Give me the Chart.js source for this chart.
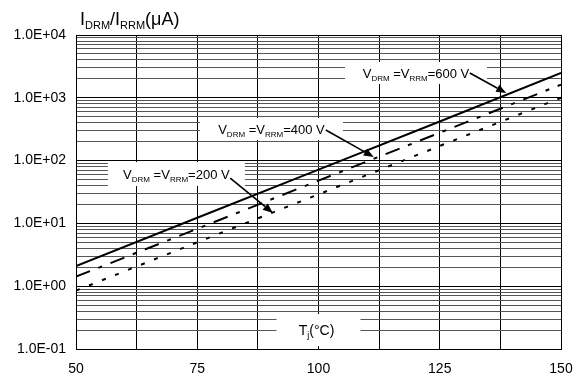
<!DOCTYPE html>
<html>
<head>
<meta charset="utf-8">
<script src="https://cdn.jsdelivr.net/npm/chart.js@4.4.0/dist/chart.umd.min.js"></script>
<style>
  html, body { margin: 0; padding: 0; background: #fff; }
  canvas { display: block; }
</style>
</head>
<body>
<canvas id="leak" width="578" height="378"></canvas>
<script>
// Tj (°C) where the curves were read
const temps = [50, 75, 100, 125, 150];
// IDRM/IRRM (µA)
const i600 = [2.1, 12.3, 72, 420, 2480];
const i400 = [1.42, 8.2, 48, 278, 1620];
const i200 = [0.85, 5.0, 29, 171, 1000];

const xTickLabels = [50, 75, 100, 125, 150];
const yDecades = [0.1, 1, 10, 100, 1000, 10000];

const FONT = '"Liberation Sans", Arial, sans-serif';

// minor log grid: 1..9 in every decade
const yTickValues = [];
yDecades.forEach((d, i) => {
    if (i === yDecades.length - 1) { yTickValues.push(d); return; }
    for (let k = 1; k < 10; k++) yTickValues.push(+(d * k).toPrecision(6));
});

function isDecade(v) {
    const l = Math.log10(v);
    return Math.abs(l - Math.round(l)) < 1e-9;
}
function sci(v) {
    const e = Math.round(Math.log10(v));
    return '1.0E' + (e < 0 ? '-' : '+') + String(Math.abs(e)).padStart(2, '0');
}

// texte mit tiefgestellten teilen: [text, sub?]
function richWidth(ctx, parts, size, subSize) {
    let w = 0;
    parts.forEach(p => {
        ctx.font = (p[1] ? subSize : size) + 'px ' + FONT;
        w += ctx.measureText(p[0]).width;
    });
    return w;
}
function drawRich(ctx, parts, x, baseline, size, subSize, subDrop) {
    ctx.textAlign = 'left';
    ctx.textBaseline = 'alphabetic';
    ctx.fillStyle = '#000';
    parts.forEach(p => {
        ctx.font = (p[1] ? subSize : size) + 'px ' + FONT;
        ctx.fillText(p[0], x, baseline + (p[1] ? subDrop : 0));
        x += ctx.measureText(p[0]).width;
    });
}
function arrow(ctx, x1, y1, x2, y2) {
    const a = Math.atan2(y2 - y1, x2 - x1);
    const len = 10, half = 4;
    ctx.save();
    ctx.strokeStyle = '#000';
    ctx.fillStyle = '#000';
    ctx.lineWidth = 1.6;
    ctx.beginPath();
    ctx.moveTo(x1, y1);
    ctx.lineTo(x2 - len * Math.cos(a), y2 - len * Math.sin(a));
    ctx.stroke();
    ctx.beginPath();
    ctx.moveTo(x2, y2);
    ctx.lineTo(x2 - len * Math.cos(a) + half * Math.sin(a), y2 - len * Math.sin(a) - half * Math.cos(a));
    ctx.lineTo(x2 - len * Math.cos(a) - half * Math.sin(a), y2 - len * Math.sin(a) + half * Math.cos(a));
    ctx.closePath();
    ctx.fill();
    ctx.restore();
}

// beschriftungen (datenkoordinaten)
const notes = [
    { text: '600 V', x: 120.1, y: 2480, w: 142, h: 22, from: [131.2, 2480], to: [138.7, 1191] },
    { text: '400 V', x: 90.3, y: 318, w: 143, h: 22, from: [101.5, 307], to: [111.4, 114] },
    { text: '200 V', x: 70.7, y: 61, w: 137, h: 24, from: [81.8, 52.8], to: [90.6, 14.7] }
];

const annotations = {
    id: 'annotations',
    afterDatasetsDraw(chart) {
        const ctx = chart.ctx;
        const sx = chart.scales.x, sy = chart.scales.y;
        ctx.save();
        notes.forEach(n => {
            const cx = sx.getPixelForValue(n.x), cy = sy.getPixelForValue(n.y);
            ctx.fillStyle = '#fff';
            ctx.fillRect(cx - n.w / 2, cy - n.h / 2, n.w, n.h);
            const parts = [['V'], ['DRM', 1], [' =V'], ['RRM', 1], ['=' + n.text]];
            const w = richWidth(ctx, parts, 13, 8);
            drawRich(ctx, parts, cx - w / 2, cy + 4.7, 13, 8, 3);
            arrow(ctx, sx.getPixelForValue(n.from[0]), sy.getPixelForValue(n.from[1]),
                       sx.getPixelForValue(n.to[0]), sy.getPixelForValue(n.to[1]));
        });
        // achsentitel x
        const tx = sx.getPixelForValue(100), ty = sy.getPixelForValue(0.2);
        ctx.fillStyle = '#fff';
        ctx.fillRect(tx - 42, ty - 16, 84, 32);
        const tp = [['T'], ['j', 1], ['(°C)']];
        const tw = richWidth(ctx, tp, 14, 9);
        drawRich(ctx, tp, tx - 2 - tw / 2, ty + 5, 14, 9, 3);
        // achsentitel y
        drawRich(ctx, [['I'], ['DRM', 1], ['/I'], ['RRM', 1], ['(μA)']], 80, 25, 18, 11, 4);
        ctx.restore();
    }
};

new Chart(document.getElementById('leak'), {
    type: 'line',
    data: {
        datasets: [
            { label: '600 V', data: temps.map((t, i) => ({ x: t, y: i600[i] })), borderDash: [] },
            { label: '400 V', data: temps.map((t, i) => ({ x: t, y: i400[i] })), borderDash: [15, 9, 4, 9] },
            { label: '200 V', data: temps.map((t, i) => ({ x: t, y: i200[i] })), borderDash: [4, 10] }
        ].map(ds => Object.assign(ds, {
            borderColor: '#000', borderWidth: 2, pointRadius: 0, tension: 0, fill: false, borderCapStyle: 'butt'
        }))
    },
    options: {
        responsive: false,
        animation: false,
        layout: { padding: { top: 35, right: 17, left: 0, bottom: 0 } },
        plugins: { legend: { display: false }, tooltip: { enabled: false } },
        scales: {
            x: {
                type: 'linear', min: 50, max: 150,
                afterFit: s => { s.height = 29; s.paddingLeft = 0; s.paddingRight = 0; },
                grid: { color: '#000', lineWidth: 1, drawTicks: false },
                border: { color: '#000' },
                ticks: {
                    stepSize: 12.5, autoSkip: false, maxRotation: 0, padding: 12,
                    color: '#000', font: { size: 14, family: FONT },
                    callback: v => xTickLabels.includes(v) ? String(v) : ''
                }
            },
            y: {
                type: 'logarithmic', min: 0.1, max: 10000,
                afterBuildTicks: s => { s.ticks = yTickValues.map(v => ({ value: v })); },
                afterFit: s => { s.width = 76; },
                grid: {
                    color: c => isDecade(c.tick.value) ? '#000' : '#555',
                    lineWidth: 1, drawTicks: false
                },
                border: { color: '#000' },
                ticks: {
                    autoSkip: false, padding: 10,
                    color: '#000', font: { size: 14, family: FONT },
                    callback: v => isDecade(v) ? sci(v) : ''
                }
            }
        }
    },
    plugins: [annotations]
});
</script>
</body>
</html>
